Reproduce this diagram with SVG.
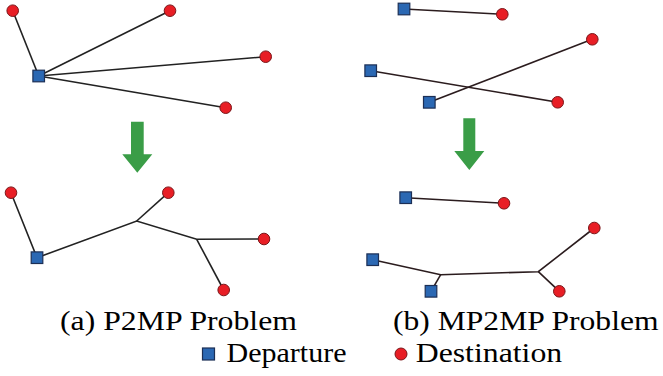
<svg xmlns="http://www.w3.org/2000/svg" width="663" height="376" viewBox="0 0 663 376">
<style>
.dep{fill:#2b68b3;stroke:#1c2f55;stroke-width:1.2}
.dst{fill:#e81e25;stroke:#7a1518;stroke-width:1}
.ln{stroke:#222;stroke-width:1.6;fill:none}
.lnb{stroke:#2b1c1e;stroke-width:1.6;fill:none}
.arr{fill:#3a9d47}
.tx{font-family:'Liberation Serif','Times New Roman',serif;fill:#000;font-size:28px}
</style>
<defs>
<rect id="sq" x="-5.8" y="-5.8" width="11.6" height="11.6" class="dep"/>
<circle id="ci" r="5.8" class="dst"/>
</defs>
<g id="connectors">
<line class="ln" x1="38.7" y1="76" x2="12.7" y2="10.7"/>
<line class="ln" x1="38.7" y1="76" x2="170" y2="10.7"/>
<line class="ln" x1="38.7" y1="76" x2="265.7" y2="56.7"/>
<line class="ln" x1="38.7" y1="76" x2="225.7" y2="107.7"/>
<line class="lnb" x1="404" y1="9" x2="502.3" y2="14.3"/>
<line class="lnb" x1="370.7" y1="70.7" x2="557.7" y2="102.3"/>
<line class="lnb" x1="429.3" y1="102.3" x2="592.3" y2="39.3"/>
<polyline class="ln" points="11,192.7 37,257.7 136.7,221 196.7,239.3 264,239"/>
<line class="ln" x1="136.7" y1="221" x2="168.3" y2="192.7"/>
<line class="ln" x1="196.7" y1="239.3" x2="223.7" y2="290"/>
<line class="lnb" x1="405.7" y1="197.7" x2="504" y2="203.3"/>
<polyline class="lnb" points="372.7,259.7 440.7,274.7 538.3,271.7 594.3,228"/>
<line class="lnb" x1="440.7" y1="274.7" x2="431" y2="291.3"/>
<line class="lnb" x1="538.3" y1="271.7" x2="559.3" y2="291.3"/>
</g>
<g id="arrow-a"><polygon class="arr" points="131,121.7 143.7,121.7 143.7,154.3 152.3,154.3 137.3,172.7 122.3,154.3 131,154.3"/></g>
<g id="arrow-b"><polygon class="arr" points="463.3,118.3 475.3,118.3 475.3,151 484.3,151 469.3,170 454.3,151 463.3,151"/></g>
<g id="a-top">
<use id="a-d1" href="#sq" x="38.7" y="76"/>
<use id="a-t1" href="#ci" x="12.7" y="10.7"/>
<use id="a-t2" href="#ci" x="170" y="10.7"/>
<use id="a-t3" href="#ci" x="265.7" y="56.7"/>
<use id="a-t4" href="#ci" x="225.7" y="107.7"/>
</g>
<g id="a-bottom">
<use id="ab-d1" href="#sq" x="37" y="257.7"/>
<use id="ab-t1" href="#ci" x="11" y="192.7"/>
<use id="ab-t2" href="#ci" x="168.3" y="192.7"/>
<use id="ab-t3" href="#ci" x="264" y="239"/>
<use id="ab-t4" href="#ci" x="223.7" y="290"/>
</g>
<g id="b-top">
<use id="b-d1" href="#sq" x="404" y="9"/>
<use id="b-d2" href="#sq" x="370.7" y="70.7"/>
<use id="b-d3" href="#sq" x="429.3" y="102.3"/>
<use id="b-t1" href="#ci" x="502.3" y="14.3"/>
<use id="b-t2" href="#ci" x="592.3" y="39.3"/>
<use id="b-t3" href="#ci" x="557.7" y="102.3"/>
</g>
<g id="b-bottom">
<use id="bb-d1" href="#sq" x="405.7" y="197.7"/>
<use id="bb-d2" href="#sq" x="372.7" y="259.7"/>
<use id="bb-d3" href="#sq" x="431" y="291.3"/>
<use id="bb-t1" href="#ci" x="504" y="203.3"/>
<use id="bb-t2" href="#ci" x="594.3" y="228"/>
<use id="bb-t3" href="#ci" x="559.3" y="291.3"/>
</g>
<g id="captions">
<text class="tx" x="60" y="330" textLength="237" lengthAdjust="spacingAndGlyphs">(a) P2MP Problem</text>
<text class="tx" x="393" y="330" textLength="265.5" lengthAdjust="spacingAndGlyphs">(b) MP2MP Problem</text>
</g>
<g id="legend">
<rect x="202.5" y="348" width="12" height="12" class="dep"/>
<text class="tx" x="226.5" y="361.5" textLength="120" lengthAdjust="spacingAndGlyphs">Departure</text>
<circle cx="401" cy="354" r="6" class="dst"/>
<text class="tx" x="415.7" y="361.5" textLength="146.5" lengthAdjust="spacingAndGlyphs">Destination</text>
</g>
</svg>
